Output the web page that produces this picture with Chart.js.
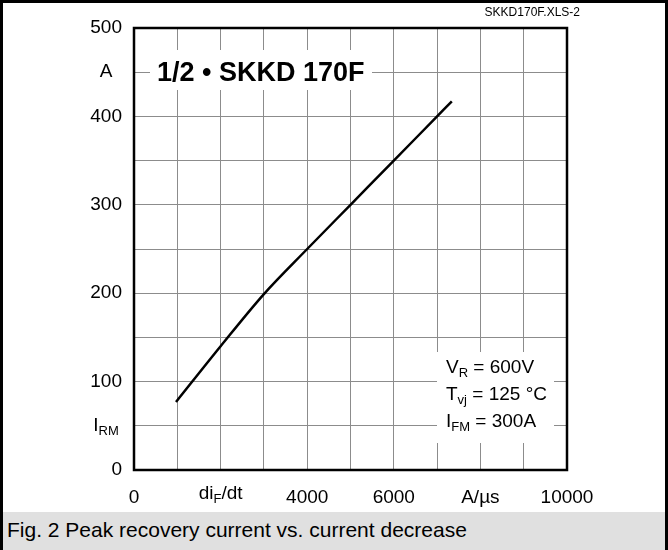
<!DOCTYPE html>
<html>
<head>
<meta charset="utf-8">
<script src="https://cdn.jsdelivr.net/npm/chart.js@4.4.1/dist/chart.umd.min.js"></script>
<style>
  html, body { margin: 0; padding: 0; background: #fff; }
  #wrap { position: relative; width: 668px; height: 550px; overflow: hidden; font-family: 'Liberation Sans', Arial, sans-serif; }
  #chart { position: absolute; left: 0; top: 0; }
  #frame { position: absolute; left: 0; top: 0; width: 662px; height: 550px; border: 3px solid #000; border-bottom: none; pointer-events: none; }
  #fileTag { position: absolute; right: 88px; top: 5px; font-size: 12px; color: #000; }
  #footer { position: absolute; left: 3px; top: 512px; width: 662px; height: 38px; background: #e0e0e0; }
  #footer span { position: absolute; left: 4px; top: 6px; font-size: 21px; color: #000; }
</style>
</head>
<body>
<div id="wrap">
  <canvas id="chart" width="668" height="512"></canvas>
  <div id="fileTag">SKKD170F.XLS-2</div>
  <div id="footer"><span>Fig. 2 Peak recovery current vs. current decrease</span></div>
  <div id="frame"></div>
</div>
<script>
// curve
const diFdt = [970, 2000, 3000, 4000, 5000, 6000, 7000, 7340];
const irm = [77, 140, 199, 250, 300, 350, 400, 417];

// axis labels
const xTickValues = [0, 2000, 4000, 6000, 8000, 10000];
const xTickLabels = ['0', ['di', 'F', '/dt'], '4000', '6000', 'A/µs', '10000'];
const yTickValues = [500, 450, 400, 300, 200, 100, 50, 0];
const yTickLabels = ['500', 'A', '400', '300', '200', '100', ['I', 'RM', ''], '0'];

const deviceName = '1/2 • SKKD 170F';
const conditions = [['V', 'R', ' = 600V'], ['T', 'vj', ' = 125 °C'], ['I', 'FM', ' = 300A']];

const FONT = "'Liberation Sans', Arial, sans-serif";

// draws plain text or [main, sub, rest] with a subscript
function drawRich(ctx, parts, x, y, size, align) {
    if (typeof parts === 'string') parts = [parts, '', ''];
    const big = size + 'px ' + FONT;
    const small = Math.round(size * 0.68) + 'px ' + FONT;
    ctx.font = big;
    const w0 = ctx.measureText(parts[0]).width;
    const w2 = ctx.measureText(parts[2]).width;
    ctx.font = small;
    const w1 = ctx.measureText(parts[1]).width;
    const total = w0 + w1 + w2;
    let left = x;
    if (align === 'center') left = x - total / 2;
    if (align === 'right') left = x - total;
    ctx.textAlign = 'left';
    ctx.textBaseline = 'middle';
    ctx.font = big;
    ctx.fillText(parts[0], left, y);
    ctx.font = small;
    ctx.fillText(parts[1], left + w0, y + size * 0.3);
    ctx.font = big;
    ctx.fillText(parts[2], left + w0 + w1, y);
}

const decorations = {
    id: 'decorations',
    beforeDatasetsDraw(chart) {
        const ctx = chart.ctx;
        const a = chart.chartArea;
        ctx.save();
        ctx.fillStyle = '#fff';
        // box behind device name
        ctx.fillRect(a.left + 16, a.top + 22, 222, 40);
        // box behind test conditions
        ctx.fillRect(a.left + 303, a.top + 324, 117, 91);
        ctx.restore();
    },
    afterDraw(chart) {
        const ctx = chart.ctx;
        const a = chart.chartArea;
        const xs = chart.scales.x;
        const ys = chart.scales.y;
        ctx.save();
        ctx.strokeStyle = '#000';
        ctx.lineWidth = 2.5;
        ctx.strokeRect(a.left, a.top, a.right - a.left, a.bottom - a.top);

        ctx.fillStyle = '#000';
        ctx.font = 'bold 27px ' + FONT;
        ctx.textAlign = 'left';
        ctx.textBaseline = 'middle';
        ctx.fillText(deviceName, a.left + 23, ys.getPixelForValue(450) + 1);

        conditions.forEach((c, i) => {
            drawRich(ctx, c, a.left + 312, a.top + 340 + i * 27, 19, 'left');
        });

        xTickValues.forEach((v, i) => {
            const lift = Array.isArray(xTickLabels[i]) ? -4 : 0;
            drawRich(ctx, xTickLabels[i], xs.getPixelForValue(v), a.bottom + 28 + lift, 19, 'center');
        });
        yTickValues.forEach((v, i) => {
            const lab = yTickLabels[i];
            const isNum = typeof lab === 'string' && /^\d+$/.test(lab);
            if (isNum) drawRich(ctx, lab, a.left - 12, ys.getPixelForValue(v), 19, 'right');
            else drawRich(ctx, lab, a.left - 28, ys.getPixelForValue(v), 19, 'center');
        });
        ctx.restore();
    }
};

const ctx = document.getElementById('chart').getContext('2d');
new Chart(ctx, {
    type: 'line',
    data: {
        datasets: [{
            data: diFdt.map((x, i) => ({ x: x, y: irm[i] })),
            borderColor: '#000',
            borderWidth: 2.5,
            pointRadius: 0,
            cubicInterpolationMode: 'monotone',
            fill: false
        }]
    },
    options: {
        responsive: false,
        animation: false,
        layout: { padding: { left: 134, right: 101, top: 28, bottom: 42 } },
        plugins: { legend: { display: false }, tooltip: { enabled: false } },
        scales: {
            x: {
                type: 'linear', min: 0, max: 10000,
                ticks: { display: false, stepSize: 1000 },
                grid: { color: '#8c8c8c', lineWidth: 1, drawTicks: false },
                border: { display: false }
            },
            y: {
                type: 'linear', min: 0, max: 500,
                ticks: { display: false, stepSize: 50 },
                grid: { color: '#8c8c8c', lineWidth: 1, drawTicks: false },
                border: { display: false }
            }
        }
    },
    plugins: [decorations]
});
</script>
</body>
</html>
